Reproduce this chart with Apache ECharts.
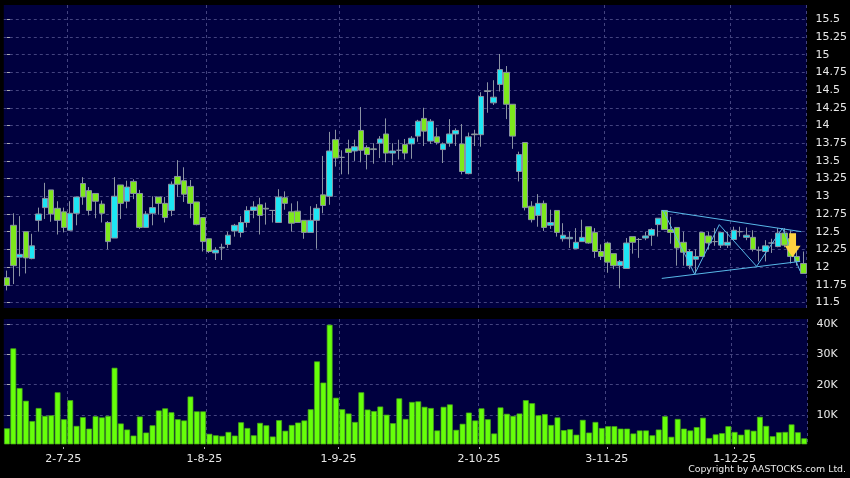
<!DOCTYPE html>
<html>
<head>
<meta charset="utf-8">
<title>chart</title>
<script src="https://cdn.jsdelivr.net/npm/echarts@6/dist/echarts.min.js"></script>
<style>
html, body { margin: 0; padding: 0; background: #000; }
#chart { width: 850px; height: 478px; }
</style>
</head>
<body>
<div id="chart"></div>
<script>
// each row: open, close, low, high
var candles = [
    [11.85,11.74,11.67,11.95],[12.59,12.02,11.76,12.76],[12.14,12.18,11.87,12.72],[12.50,12.13,11.91,12.50],
    [12.12,12.30,12.11,12.47],[12.66,12.75,12.50,12.84],[12.84,12.97,12.68,13.19],[13.09,12.75,12.64,13.09],
    [12.83,12.66,12.46,12.93],[12.78,12.56,12.49,12.84],[12.52,12.76,12.51,12.93],[12.76,12.99,12.59,12.99],
    [13.18,12.99,12.88,13.27],[13.08,12.80,12.73,13.13],[13.04,12.93,12.69,13.04],[12.89,12.76,12.63,12.94],
    [12.63,12.36,12.25,12.65],[12.41,13.00,12.41,13.27],[13.16,12.90,12.68,13.16],[12.93,13.13,12.83,13.22],
    [13.21,13.04,12.96,13.24],[13.04,12.56,12.54,13.09],[12.56,12.75,12.56,12.79],[12.76,12.84,12.59,13.00],
    [12.99,12.90,12.74,12.99],[12.90,12.70,12.63,12.99],[12.80,13.17,12.72,13.21],[13.28,13.17,12.99,13.51],
    [13.22,13.03,12.92,13.41],[13.14,12.90,12.69,13.23],[12.92,12.60,12.59,12.92],[12.70,12.36,12.22,12.70],
    [12.40,12.22,12.20,12.40],[12.20,12.24,12.10,12.28],[12.27,12.28,12.10,12.33],[12.32,12.45,12.27,12.50],
    [12.51,12.59,12.43,12.61],[12.49,12.63,12.42,12.72],[12.63,12.80,12.56,12.86],[12.80,12.85,12.69,12.93],
    [12.88,12.73,12.46,12.98],[12.83,12.82,12.60,12.91],[12.80,12.80,12.63,12.80],[12.63,12.99,12.63,13.10],
    [12.98,12.90,12.81,13.07],[12.78,12.62,12.50,12.90],[12.79,12.63,12.63,12.93],[12.66,12.49,12.40,12.66],
    [12.49,12.66,12.49,12.86],[12.66,12.83,12.26,12.89],[13.02,12.87,12.76,13.57],[13.00,13.64,12.88,13.91],
    [13.80,13.54,13.42,13.94],[13.55,13.55,13.31,13.65],[13.67,13.62,13.31,13.80],[13.64,13.70,13.50,13.80],
    [13.93,13.65,13.48,14.26],[13.69,13.59,13.38,13.72],[13.67,13.66,13.46,13.75],[13.75,13.81,13.54,13.85],
    [13.88,13.61,13.48,14.10],[13.61,13.64,13.44,13.75],[13.65,13.65,13.52,13.80],[13.73,13.61,13.52,13.81],
    [13.74,13.82,13.53,13.85],[13.85,14.06,13.77,14.08],[14.10,13.92,13.71,14.25],[13.78,14.06,13.74,14.09],
    [13.84,13.76,13.73,13.97],[13.66,13.74,13.47,13.76],[13.75,13.88,13.70,14.09],[13.88,13.93,13.71,13.96],
    [13.74,13.35,13.31,14.02],[13.32,13.84,13.31,13.90],[13.88,13.87,13.71,13.94],[13.87,14.41,13.70,14.47],
    [14.49,14.48,14.18,14.61],[14.32,14.40,14.29,14.64],[14.58,14.79,14.48,15.01],[14.75,14.30,14.09,14.84],
    [14.30,13.85,13.67,14.30],[13.35,13.59,13.21,13.63],[13.76,12.84,12.80,13.76],[12.86,12.67,12.63,12.93],
    [12.73,12.90,12.57,13.03],[12.90,12.56,12.51,12.94],[12.59,12.63,12.54,12.81],[12.80,12.49,12.43,12.80],
    [12.40,12.45,12.36,12.62],[12.40,12.42,12.27,12.50],[12.26,12.35,12.26,12.55],[12.36,12.42,12.36,12.67],
    [12.57,12.34,12.33,12.57],[12.49,12.22,12.13,12.55],[12.22,12.15,12.10,12.32],[12.34,12.07,11.92,12.36],
    [12.19,12.02,11.97,12.19],[12.02,12.08,11.70,12.10],[11.98,12.34,11.98,12.41],[12.43,12.35,12.19,12.43],
    [12.39,12.39,12.13,12.41],[12.41,12.44,12.38,12.50],[12.45,12.53,12.30,12.55],[12.60,12.69,12.43,12.69],
    [12.80,12.53,12.53,12.80],[12.53,12.49,12.33,12.71],[12.56,12.27,12.02,12.56],[12.35,12.21,12.02,12.50],
    [12.02,12.22,11.97,12.25],[12.11,12.15,11.91,12.25],[12.49,12.15,12.15,12.49],[12.44,12.34,12.25,12.50],
    [12.36,12.36,12.30,12.55],[12.31,12.49,12.27,12.49],[12.31,12.35,12.27,12.50],[12.39,12.52,12.38,12.57],
    [12.50,12.50,12.43,12.57],[12.42,12.45,12.38,12.56],[12.42,12.25,12.22,12.52],[12.24,12.24,12.08,12.29],
    [12.22,12.30,12.08,12.38],[12.34,12.34,12.20,12.40],[12.29,12.48,12.28,12.55],[12.48,12.31,12.28,12.55],
    [12.40,12.15,12.05,12.52],[12.15,12.08,12.02,12.25],[12.05,11.91,11.91,12.22]
];

// volume in thousands
var volumes = [
    5.6,32.0,18.9,14.7,8.0,12.3,9.7,9.9,17.5,8.6,14.9,6.4,9.3,5.5,9.6,9.2,9.7,25.6,7.2,5.2,
    3.2,9.5,4.2,6.6,11.5,12.2,10.9,8.6,8.2,16.1,11.2,11.2,3.8,3.3,3.1,4.4,3.2,7.6,5.7,3.3,
    7.4,6.6,2.9,8.3,4.8,6.7,7.5,8.2,11.9,27.7,20.7,39.8,15.7,11.9,10.5,7.7,17.5,11.8,11.3,12.8,
    10.1,7.3,15.5,8.7,14.3,14.5,12.7,12.3,4.9,12.7,13.5,5.1,7.1,10.8,8.2,12.2,8.6,3.9,12.5,10.4,
    9.7,10.5,14.9,13.9,9.9,10.3,6.7,9.2,5.0,5.3,3.5,8.4,4.2,7.7,5.7,6.3,6.3,5.5,5.5,3.9,
    4.9,4.9,3.3,5.2,9.6,2.8,8.7,5.5,4.9,6.0,9.1,2.4,3.6,4.0,6.3,4.4,3.5,5.2,4.8,9.4,
    6.4,3.0,4.3,4.4,6.9,4.3,2.3
];

var dateLabels = ['2-7-25', '1-8-25', '1-9-25', '2-10-25', '3-11-25', '1-12-25'];
var dateLabelSlots = [8.9, 31.2, 52.4, 74.6, 94.8, 115];
var monthStartBars = [10, 32, 53, 75, 95, 115];

var priceTicks = [11.5, 11.75, 12, 12.25, 12.5, 12.75, 13, 13.25, 13.5, 13.75, 14, 14.25, 14.5, 14.75, 15, 15.25, 15.5];
var volumeTicks = [10, 20, 30, 40];

// pattern drawn over the last weeks, as [bar position, price]
var trendUpper = [[103.6, 12.80], [125.7, 12.50]];
var trendLower = [[103.6, 11.84], [125.5, 12.08]];
var zigzag = [[103.8, 12.80], [108.8, 11.90], [112.7, 12.60], [118.6, 12.01], [122.7, 12.55], [125.5, 11.94]];
var arrowPoint = [[124.3, 12.31]];

var categories = volumes.map(function (v, i) { return i; });
var barSlots = { min: -0.5, max: candles.length - 0.5 };
var gridColor = '#43437f';
var textColor = '#e8e8e8';
var fontName = '"DejaVu Sans", sans-serif';

function isMonthStart(index) {
    return monthStartBars.indexOf(index) >= 0;
}

function bandAxis(gridIndex) {
    return {
        type: 'category',
        gridIndex: gridIndex,
        data: categories,
        axisLine: { show: false },
        axisTick: { show: false },
        axisLabel: { show: false },
        splitLine: {
            show: true,
            interval: isMonthStart,
            lineStyle: { color: gridColor, type: [3, 3], width: 1 }
        }
    };
}

function trendSeries(name, points) {
    return {
        name: name,
        type: 'line',
        xAxisIndex: 3,
        yAxisIndex: 0,
        data: points,
        symbol: 'none',
        silent: true,
        z: 5,
        lineStyle: { color: '#58b8e8', width: 1 }
    };
}

var myChart = echarts.init(document.getElementById('chart'), null, { renderer: 'canvas' });

var option = {
    animation: false,
    backgroundColor: '#000000',
    title: {
        text: 'Copyright by AASTOCKS.com Ltd.',
        right: 4,
        top: 465,
        padding: 0,
        textStyle: { color: textColor, fontSize: 9.4, fontWeight: 'normal', fontFamily: fontName }
    },
    grid: [
        { left: 3.8, top: 5, width: 803.6, height: 303, show: true, backgroundColor: '#00003f', borderWidth: 0 },
        { left: 3.8, top: 319, width: 803.6, height: 125, show: true, backgroundColor: '#00003f', borderWidth: 0 }
    ],
    xAxis: [
        bandAxis(0),
        bandAxis(1),
        {
            // date labels sit between bars, so they get their own axis
            type: 'value',
            gridIndex: 1,
            min: barSlots.min,
            max: barSlots.max,
            position: 'bottom',
            offset: 3,
            axisLine: { show: false },
            splitLine: { show: false },
            axisTick: { customValues: dateLabelSlots, length: 2, lineStyle: { color: '#b0b0b0' } },
            axisLabel: {
                customValues: dateLabelSlots,
                color: textColor,
                fontSize: 11,
                fontFamily: fontName,
                margin: 7,
                formatter: function (value) {
                    return dateLabels[dateLabelSlots.indexOf(value)];
                }
            }
        },
        {
            type: 'value',
            gridIndex: 0,
            min: barSlots.min,
            max: barSlots.max,
            show: false
        }
    ],
    yAxis: [
        {
            type: 'value',
            gridIndex: 0,
            position: 'right',
            min: 11.422,
            max: 15.702,
            offset: 3,
            axisLine: { show: false },
            axisTick: { customValues: priceTicks, length: 3, lineStyle: { color: '#b0b0b0' } },
            axisLabel: { customValues: priceTicks, color: textColor, fontSize: 11, fontFamily: fontName, margin: 6 },
            splitLine: { show: true, lineStyle: { color: gridColor, type: [3, 3], width: 1 } }
        },
        {
            type: 'value',
            gridIndex: 1,
            position: 'right',
            min: 0.43,
            max: 41.7,
            offset: 3,
            axisLine: { show: false },
            axisTick: { customValues: volumeTicks, length: 3, lineStyle: { color: '#b0b0b0' } },
            axisLabel: {
                customValues: volumeTicks,
                color: textColor,
                fontSize: 11,
                fontFamily: fontName,
                margin: 6,
                formatter: function (value) { return value + 'K'; }
            },
            splitLine: { show: true, lineStyle: { color: gridColor, type: [3, 3], width: 1 } }
        }
    ],
    series: [
        {
            type: 'candlestick',
            xAxisIndex: 0,
            yAxisIndex: 0,
            data: candles,
            barWidth: 6,
            itemStyle: {
                color: '#1de6f4',
                color0: '#7de81c',
                borderColor: '#8b93a3',
                borderColor0: '#8b93a3',
                borderWidth: 1
            }
        },
        {
            type: 'bar',
            xAxisIndex: 1,
            yAxisIndex: 1,
            data: volumes,
            barWidth: 5.8,
            itemStyle: { color: '#66ff0a', borderColor: '#48a818', borderWidth: 0.7 }
        },
        trendSeries('upper', trendUpper),
        trendSeries('lower', trendLower),
        trendSeries('zigzag', zigzag),
        {
            type: 'scatter',
            xAxisIndex: 3,
            yAxisIndex: 0,
            data: arrowPoint,
            symbol: 'path://M4 0 H10 V12 H14 L7 23 L0 12 H4 Z',
            symbolSize: [16, 24],
            silent: true,
            z: 20,
            itemStyle: { color: '#ffd23f', opacity: 1 }
        }
    ]
};

myChart.setOption(option);
</script>
</body>
</html>
